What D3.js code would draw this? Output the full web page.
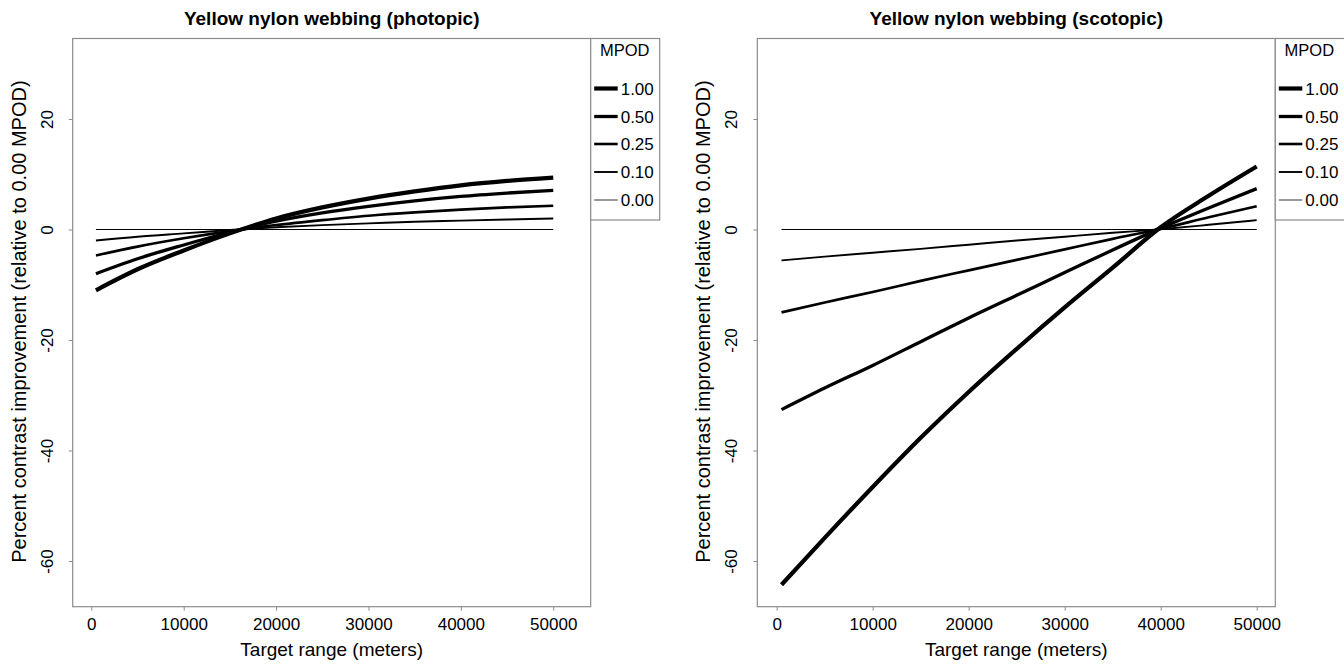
<!DOCTYPE html>
<html><head><meta charset="utf-8">
<script src="https://cdn.jsdelivr.net/npm/d3@7"></script>
<style>body{margin:0;background:#fff;} svg{display:block;} text{font-family:"Liberation Sans",Arial,sans-serif;}</style>
</head><body>
<svg id="chart" width="1344" height="664"></svg>
<script>
// ---- data ----
const rangeMeters = [500, 5000, 10000, 15000, 20000, 25000, 30000, 35000, 40000, 45000, 50000];
const mpodLevels = ["1.00", "0.50", "0.25", "0.10", "0.00"];
const photopic100 = [-11.0, -7.2, -3.8, -0.7, 2.0, 4.0, 5.6, 6.9, 8.0, 8.8, 9.4];
const photopic050 = [-8.0, -5.3, -2.8, -0.5, 1.5, 3.0, 4.2, 5.2, 6.0, 6.6, 7.1];
const photopic025 = [-4.7, -3.1, -1.6, -0.3, 0.8, 1.7, 2.5, 3.1, 3.6, 4.0, 4.3];
const photopic010 = [-2.0, -1.3, -0.7, -0.1, 0.4, 0.8, 1.1, 1.4, 1.6, 1.8, 2.0];
const photopic000 = [0, 0, 0, 0, 0, 0, 0, 0, 0, 0, 0];
const scotopic100 = [-64.3, -55.8, -46.6, -37.7, -29.4, -21.6, -14.1, -6.9, 0.4, 6.1, 11.4];
const scotopic050 = [-32.6, -28.7, -24.6, -20.3, -16.0, -11.9, -7.8, -3.7, 0.25, 3.9, 7.4];
const scotopic025 = [-15.0, -13.2, -11.3, -9.3, -7.4, -5.5, -3.6, -1.7, 0.12, 2.2, 4.2];
const scotopic010 = [-5.6, -4.9, -4.2, -3.5, -2.75, -2.0, -1.3, -0.6, 0.05, 0.85, 1.7];
const scotopic000 = [0, 0, 0, 0, 0, 0, 0, 0, 0, 0, 0];
const xTicks = [0, 10000, 20000, 30000, 40000, 50000];
const yTicks = [-60, -40, -20, 0, 20];
const titles = ["Yellow nylon webbing (photopic)", "Yellow nylon webbing (scotopic)"];
const xLabel = "Target range (meters)";
const yLabel = "Percent contrast improvement (relative to 0.00 MPOD)";
const legendTitle = "MPOD";

// ---- styles ----
const widths = [4.2, 3.3, 2.6, 1.9, 1.2];
const frameColor = "#8c8c8c";
const fmt = d => String(d);

const svg = d3.select("#chart");

function panel(cfg) {
  const g = svg.append("g");
  const x = d3.scaleLinear().domain(cfg.xDomain).range([cfg.left, cfg.right]);
  const y = d3.scaleLinear().domain([-68.27, 34.57]).range([cfg.bottom, cfg.top]);

  // title
  g.append("text").attr("x", (cfg.left + cfg.right) / 2).attr("y", 25)
    .attr("text-anchor", "middle").attr("font-size", 19).attr("font-weight", "bold").text(cfg.title);

  // lines
  const line = d3.line().curve(d3.curveMonotoneX).x((d, i) => x(rangeMeters[i])).y(d => y(d));
  cfg.series.forEach((s, k) => {
    g.append("path").datum(s).attr("d", line).attr("fill", "none")
      .attr("stroke", "#000").attr("stroke-width", widths[k]);
  });

  // frame
  g.append("rect").attr("x", cfg.left).attr("y", cfg.top)
    .attr("width", cfg.right - cfg.left).attr("height", cfg.bottom - cfg.top)
    .attr("fill", "none").attr("stroke", frameColor).attr("stroke-width", 1.2);

  // x axis
  const xa = g.append("g").attr("transform", `translate(0,${cfg.bottom})`)
    .call(d3.axisBottom(x).tickValues(xTicks).tickFormat(fmt).tickSize(4).tickPadding(7));
  xa.select(".domain").remove();
  xa.selectAll("line").attr("stroke", frameColor);
  xa.selectAll("text").attr("font-size", 17).attr("fill", "#000")
    .style("font-family", '"Liberation Sans", Arial, sans-serif');

  // y axis
  const ya = g.append("g").attr("transform", `translate(${cfg.left},0)`)
    .call(d3.axisLeft(y).tickValues(yTicks).tickFormat(fmt).tickSize(4).tickPadding(0));
  ya.select(".domain").remove();
  ya.selectAll("line").attr("stroke", frameColor);
  ya.selectAll("text").attr("font-size", 17).attr("fill", "#000")
    .style("font-family", '"Liberation Sans", Arial, sans-serif')
    .attr("text-anchor", "middle").attr("dy", 0)
    .attr("x", 0).attr("y", 0)
    .attr("transform", `translate(-20,0) rotate(-90)`);

  // axis labels
  g.append("text").attr("x", (cfg.left + cfg.right) / 2).attr("y", 656)
    .attr("text-anchor", "middle").attr("font-size", 19).text(xLabel);
  g.append("text")
    .attr("transform", `translate(${cfg.left - 47},${(cfg.top + cfg.bottom) / 2 - 1}) rotate(-90)`)
    .attr("text-anchor", "middle").attr("font-size", 20).text(yLabel);

  // legend
  const lx = cfg.right;
  const lg = g.append("g");
  lg.append("rect").attr("x", lx).attr("y", cfg.top).attr("width", cfg.legendW).attr("height", 220 - cfg.top)
    .attr("fill", "#fff").attr("stroke", frameColor).attr("stroke-width", 1.2);
  lg.append("text").attr("x", lx + 34).attr("y", 56).attr("text-anchor", "middle")
    .attr("font-size", 16.5).text(legendTitle);
  const rowY = [88.5, 116.5, 144, 172, 200];
  mpodLevels.forEach((lab, k) => {
    lg.append("line").attr("x1", lx + 3.5).attr("x2", lx + 27).attr("y1", rowY[k]).attr("y2", rowY[k])
      .attr("stroke", k === 4 ? "#555" : "#000").attr("stroke-width", widths[k]);
    lg.append("text").attr("x", lx + 30).attr("y", rowY[k] + 6).attr("font-size", 17).text(lab);
  });
}

panel({ left: 72.7, right: 590.7, top: 38.5, bottom: 606.7, xDomain: [-2015, 54055], legendW: 69,
  title: titles[0], series: [photopic100, photopic050, photopic025, photopic010, photopic000] });
panel({ left: 757.3, right: 1275.3, top: 38.5, bottom: 606.7, xDomain: [-2021, 51937], legendW: 72,
  title: titles[1], series: [scotopic100, scotopic050, scotopic025, scotopic010, scotopic000] });
</script>
</body></html>
